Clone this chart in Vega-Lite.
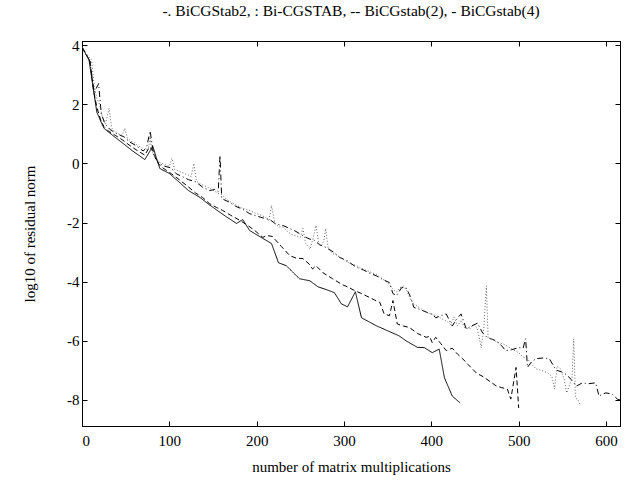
{
  "$schema": "https://vega.github.io/schema/vega-lite/v6.json",
  "width": 538,
  "height": 385,
  "autosize": "none",
  "padding": {"left": 82, "top": 41, "right": 6, "bottom": 54},
  "background": "white",
  "title": {"text": "-. BiCGStab2, : Bi-CGSTAB, -- BiCGstab(2), - BiCGstab(4)", "font": "Liberation Serif", "fontSize": 15.5, "fontWeight": "normal", "color": "black", "offset": 19},
  "config": {
    "view": {"stroke": "black", "strokeWidth": 1},
    "axis": {"grid": false, "domainColor": "black", "tickColor": "black", "labelColor": "black", "titleColor": "black", "labelFont": "Liberation Serif", "titleFont": "Liberation Serif", "labelFontSize": 15, "titleFontSize": 15, "titleFontWeight": "normal", "tickSize": -5, "tickWidth": 1, "domainWidth": 1}
  },
  "datasets": {
    "d": [
      {"m":"BiCGstab(4)","x":0,"y":3.93},{"m":"BiCGstab(4)","x":8,"y":3.5},{"m":"BiCGstab(4)","x":17,"y":1.73},{"m":"BiCGstab(4)","x":25,"y":1.19},{"m":"BiCGstab(4)","x":35,"y":0.95},{"m":"BiCGstab(4)","x":46,"y":0.7},{"m":"BiCGstab(4)","x":58,"y":0.42},{"m":"BiCGstab(4)","x":72,"y":0.13},{"m":"BiCGstab(4)","x":81,"y":0.58},{"m":"BiCGstab(4)","x":89,"y":-0.17},{"m":"BiCGstab(4)","x":100,"y":-0.34},{"m":"BiCGstab(4)","x":110,"y":-0.6},{"m":"BiCGstab(4)","x":122,"y":-0.92},{"m":"BiCGstab(4)","x":135,"y":-1.15},{"m":"BiCGstab(4)","x":145,"y":-1.38},{"m":"BiCGstab(4)","x":152,"y":-1.53},{"m":"BiCGstab(4)","x":165,"y":-1.8},{"m":"BiCGstab(4)","x":177,"y":-2.03},{"m":"BiCGstab(4)","x":184,"y":-1.9},{"m":"BiCGstab(4)","x":192,"y":-2.27},{"m":"BiCGstab(4)","x":205,"y":-2.5},{"m":"BiCGstab(4)","x":217,"y":-2.71},{"m":"BiCGstab(4)","x":225,"y":-3.36},{"m":"BiCGstab(4)","x":234,"y":-3.46},{"m":"BiCGstab(4)","x":249,"y":-3.9},{"m":"BiCGstab(4)","x":261,"y":-3.97},{"m":"BiCGstab(4)","x":270,"y":-4.17},{"m":"BiCGstab(4)","x":280,"y":-4.27},{"m":"BiCGstab(4)","x":289,"y":-4.37},{"m":"BiCGstab(4)","x":297,"y":-4.75},{"m":"BiCGstab(4)","x":304,"y":-4.85},{"m":"BiCGstab(4)","x":313,"y":-4.34},{"m":"BiCGstab(4)","x":320,"y":-5.22},{"m":"BiCGstab(4)","x":337,"y":-5.49},{"m":"BiCGstab(4)","x":350,"y":-5.66},{"m":"BiCGstab(4)","x":363,"y":-5.83},{"m":"BiCGstab(4)","x":371,"y":-6.0},{"m":"BiCGstab(4)","x":384,"y":-6.22},{"m":"BiCGstab(4)","x":392,"y":-6.23},{"m":"BiCGstab(4)","x":401,"y":-6.4},{"m":"BiCGstab(4)","x":409,"y":-6.28},{"m":"BiCGstab(4)","x":415,"y":-7.25},{"m":"BiCGstab(4)","x":424,"y":-7.87},{"m":"BiCGstab(4)","x":433,"y":-8.1},

      {"m":"BiCGstab(2)","x":0,"y":3.93},{"m":"BiCGstab(2)","x":4,"y":3.7},{"m":"BiCGstab(2)","x":9,"y":3.5},{"m":"BiCGstab(2)","x":13,"y":2.5},{"m":"BiCGstab(2)","x":17,"y":1.9},{"m":"BiCGstab(2)","x":21,"y":1.5},{"m":"BiCGstab(2)","x":25,"y":1.25},{"m":"BiCGstab(2)","x":30,"y":1.1},{"m":"BiCGstab(2)","x":38,"y":0.95},{"m":"BiCGstab(2)","x":46,"y":0.8},{"m":"BiCGstab(2)","x":55,"y":0.6},{"m":"BiCGstab(2)","x":64,"y":0.42},{"m":"BiCGstab(2)","x":72,"y":0.28},{"m":"BiCGstab(2)","x":77,"y":0.55},{"m":"BiCGstab(2)","x":81,"y":0.45},{"m":"BiCGstab(2)","x":85,"y":0.1},{"m":"BiCGstab(2)","x":90,"y":-0.1},{"m":"BiCGstab(2)","x":100,"y":-0.3},{"m":"BiCGstab(2)","x":110,"y":-0.52},{"m":"BiCGstab(2)","x":120,"y":-0.75},{"m":"BiCGstab(2)","x":130,"y":-1.0},{"m":"BiCGstab(2)","x":138,"y":-1.15},{"m":"BiCGstab(2)","x":146,"y":-1.36},{"m":"BiCGstab(2)","x":154,"y":-1.49},{"m":"BiCGstab(2)","x":161,"y":-1.59},{"m":"BiCGstab(2)","x":170,"y":-1.75},{"m":"BiCGstab(2)","x":181,"y":-1.93},{"m":"BiCGstab(2)","x":190,"y":-2.1},{"m":"BiCGstab(2)","x":199,"y":-2.3},{"m":"BiCGstab(2)","x":207,"y":-2.5},{"m":"BiCGstab(2)","x":212,"y":-2.44},{"m":"BiCGstab(2)","x":218,"y":-2.47},{"m":"BiCGstab(2)","x":228,"y":-2.8},{"m":"BiCGstab(2)","x":238,"y":-3.12},{"m":"BiCGstab(2)","x":245,"y":-3.2},{"m":"BiCGstab(2)","x":253,"y":-3.22},{"m":"BiCGstab(2)","x":260,"y":-3.4},{"m":"BiCGstab(2)","x":264,"y":-3.57},{"m":"BiCGstab(2)","x":268,"y":-3.46},{"m":"BiCGstab(2)","x":276,"y":-3.7},{"m":"BiCGstab(2)","x":287,"y":-3.9},{"m":"BiCGstab(2)","x":298,"y":-4.1},{"m":"BiCGstab(2)","x":306,"y":-4.2},{"m":"BiCGstab(2)","x":312,"y":-4.3},{"m":"BiCGstab(2)","x":320,"y":-4.4},{"m":"BiCGstab(2)","x":329,"y":-4.53},{"m":"BiCGstab(2)","x":335,"y":-4.62},{"m":"BiCGstab(2)","x":341,"y":-4.7},{"m":"BiCGstab(2)","x":346,"y":-5.09},{"m":"BiCGstab(2)","x":352,"y":-5.15},{"m":"BiCGstab(2)","x":356,"y":-4.64},{"m":"BiCGstab(2)","x":361,"y":-5.43},{"m":"BiCGstab(2)","x":368,"y":-5.5},{"m":"BiCGstab(2)","x":375,"y":-5.55},{"m":"BiCGstab(2)","x":384,"y":-5.75},{"m":"BiCGstab(2)","x":394,"y":-5.88},{"m":"BiCGstab(2)","x":398,"y":-5.85},{"m":"BiCGstab(2)","x":401,"y":-6.06},{"m":"BiCGstab(2)","x":405,"y":-5.88},{"m":"BiCGstab(2)","x":411,"y":-6.1},{"m":"BiCGstab(2)","x":417,"y":-6.33},{"m":"BiCGstab(2)","x":424,"y":-6.25},{"m":"BiCGstab(2)","x":430,"y":-6.45},{"m":"BiCGstab(2)","x":436,"y":-6.61},{"m":"BiCGstab(2)","x":442,"y":-6.8},{"m":"BiCGstab(2)","x":447,"y":-6.95},{"m":"BiCGstab(2)","x":452,"y":-7.1},{"m":"BiCGstab(2)","x":458,"y":-7.19},{"m":"BiCGstab(2)","x":466,"y":-7.35},{"m":"BiCGstab(2)","x":474,"y":-7.52},{"m":"BiCGstab(2)","x":480,"y":-7.58},{"m":"BiCGstab(2)","x":487,"y":-7.63},{"m":"BiCGstab(2)","x":491,"y":-7.97},{"m":"BiCGstab(2)","x":497,"y":-6.9},{"m":"BiCGstab(2)","x":500,"y":-8.27},

      {"m":"BiCGStab2","x":0,"y":3.93},{"m":"BiCGStab2","x":5,"y":3.7},{"m":"BiCGStab2","x":9,"y":3.45},{"m":"BiCGStab2","x":14,"y":2.4},{"m":"BiCGStab2","x":19,"y":2.7},{"m":"BiCGStab2","x":22,"y":1.7},{"m":"BiCGStab2","x":26,"y":1.35},{"m":"BiCGStab2","x":32,"y":1.15},{"m":"BiCGStab2","x":40,"y":1.0},{"m":"BiCGStab2","x":48,"y":0.9},{"m":"BiCGStab2","x":55,"y":0.72},{"m":"BiCGStab2","x":62,"y":0.6},{"m":"BiCGStab2","x":70,"y":0.42},{"m":"BiCGStab2","x":74,"y":0.55},{"m":"BiCGStab2","x":78,"y":1.1},{"m":"BiCGStab2","x":82,"y":0.3},{"m":"BiCGStab2","x":88,"y":0.0},{"m":"BiCGStab2","x":95,"y":-0.1},{"m":"BiCGStab2","x":102,"y":-0.15},{"m":"BiCGStab2","x":108,"y":-0.35},{"m":"BiCGStab2","x":115,"y":-0.45},{"m":"BiCGStab2","x":122,"y":-0.55},{"m":"BiCGStab2","x":130,"y":-0.62},{"m":"BiCGStab2","x":138,"y":-0.8},{"m":"BiCGStab2","x":146,"y":-0.92},{"m":"BiCGStab2","x":152,"y":-0.88},{"m":"BiCGStab2","x":156,"y":-0.95},{"m":"BiCGStab2","x":158,"y":0.27},{"m":"BiCGStab2","x":160,"y":-1.19},{"m":"BiCGStab2","x":168,"y":-1.3},{"m":"BiCGStab2","x":176,"y":-1.45},{"m":"BiCGStab2","x":184,"y":-1.55},{"m":"BiCGStab2","x":192,"y":-1.7},{"m":"BiCGStab2","x":200,"y":-1.78},{"m":"BiCGStab2","x":208,"y":-1.85},{"m":"BiCGStab2","x":215,"y":-1.9},{"m":"BiCGStab2","x":222,"y":-2.05},{"m":"BiCGStab2","x":230,"y":-2.1},{"m":"BiCGStab2","x":238,"y":-2.2},{"m":"BiCGStab2","x":245,"y":-2.3},{"m":"BiCGStab2","x":253,"y":-2.45},{"m":"BiCGStab2","x":260,"y":-2.55},{"m":"BiCGStab2","x":266,"y":-2.6},{"m":"BiCGStab2","x":272,"y":-2.75},{"m":"BiCGStab2","x":280,"y":-2.85},{"m":"BiCGStab2","x":288,"y":-3.0},{"m":"BiCGStab2","x":295,"y":-3.18},{"m":"BiCGStab2","x":304,"y":-3.3},{"m":"BiCGStab2","x":314,"y":-3.51},{"m":"BiCGStab2","x":322,"y":-3.6},{"m":"BiCGStab2","x":330,"y":-3.72},{"m":"BiCGStab2","x":337,"y":-3.8},{"m":"BiCGStab2","x":344,"y":-3.92},{"m":"BiCGStab2","x":352,"y":-4.03},{"m":"BiCGStab2","x":356,"y":-4.4},{"m":"BiCGStab2","x":360,"y":-4.47},{"m":"BiCGStab2","x":366,"y":-4.2},{"m":"BiCGStab2","x":371,"y":-4.2},{"m":"BiCGStab2","x":376,"y":-4.5},{"m":"BiCGStab2","x":380,"y":-4.87},{"m":"BiCGStab2","x":388,"y":-4.95},{"m":"BiCGStab2","x":396,"y":-5.05},{"m":"BiCGStab2","x":401,"y":-5.1},{"m":"BiCGStab2","x":405,"y":-5.22},{"m":"BiCGStab2","x":411,"y":-5.15},{"m":"BiCGStab2","x":417,"y":-5.09},{"m":"BiCGStab2","x":424,"y":-5.5},{"m":"BiCGStab2","x":428,"y":-5.3},{"m":"BiCGStab2","x":434,"y":-5.09},{"m":"BiCGStab2","x":440,"y":-5.6},{"m":"BiCGStab2","x":446,"y":-5.5},{"m":"BiCGStab2","x":453,"y":-5.4},{"m":"BiCGStab2","x":458,"y":-5.7},{"m":"BiCGStab2","x":464,"y":-5.89},{"m":"BiCGStab2","x":470,"y":-5.95},{"m":"BiCGStab2","x":474,"y":-6.0},{"m":"BiCGStab2","x":480,"y":-6.15},{"m":"BiCGStab2","x":485,"y":-6.33},{"m":"BiCGStab2","x":492,"y":-6.3},{"m":"BiCGStab2","x":500,"y":-6.23},{"m":"BiCGStab2","x":505,"y":-6.25},{"m":"BiCGStab2","x":508,"y":-5.93},{"m":"BiCGStab2","x":510,"y":-6.9},{"m":"BiCGStab2","x":515,"y":-6.7},{"m":"BiCGStab2","x":520,"y":-6.6},{"m":"BiCGStab2","x":528,"y":-6.58},{"m":"BiCGStab2","x":535,"y":-6.6},{"m":"BiCGStab2","x":541,"y":-6.9},{"m":"BiCGStab2","x":544,"y":-7.0},{"m":"BiCGStab2","x":549,"y":-7.05},{"m":"BiCGStab2","x":554,"y":-7.13},{"m":"BiCGStab2","x":560,"y":-7.3},{"m":"BiCGStab2","x":566,"y":-7.53},{"m":"BiCGStab2","x":573,"y":-7.42},{"m":"BiCGStab2","x":580,"y":-7.45},{"m":"BiCGStab2","x":588,"y":-7.42},{"m":"BiCGStab2","x":592,"y":-7.87},{"m":"BiCGStab2","x":596,"y":-7.8},{"m":"BiCGStab2","x":600,"y":-7.76},{"m":"BiCGStab2","x":607,"y":-7.8},{"m":"BiCGStab2","x":613,"y":-7.97},{"m":"BiCGStab2","x":616,"y":-8.0},

      {"m":"Bi-CGSTAB","x":0,"y":3.93},{"m":"Bi-CGSTAB","x":4,"y":3.75},{"m":"Bi-CGSTAB","x":8,"y":3.6},{"m":"Bi-CGSTAB","x":11,"y":3.5},{"m":"Bi-CGSTAB","x":14,"y":2.6},{"m":"Bi-CGSTAB","x":17,"y":2.2},{"m":"Bi-CGSTAB","x":20,"y":2.0},{"m":"Bi-CGSTAB","x":23,"y":1.6},{"m":"Bi-CGSTAB","x":27,"y":1.35},{"m":"Bi-CGSTAB","x":31,"y":1.86},{"m":"Bi-CGSTAB","x":34,"y":1.2},{"m":"Bi-CGSTAB","x":38,"y":1.05},{"m":"Bi-CGSTAB","x":42,"y":1.0},{"m":"Bi-CGSTAB","x":46,"y":0.95},{"m":"Bi-CGSTAB","x":49,"y":1.19},{"m":"Bi-CGSTAB","x":52,"y":0.85},{"m":"Bi-CGSTAB","x":56,"y":0.75},{"m":"Bi-CGSTAB","x":60,"y":0.7},{"m":"Bi-CGSTAB","x":64,"y":0.6},{"m":"Bi-CGSTAB","x":68,"y":0.55},{"m":"Bi-CGSTAB","x":72,"y":0.45},{"m":"Bi-CGSTAB","x":76,"y":0.5},{"m":"Bi-CGSTAB","x":78,"y":0.9},{"m":"Bi-CGSTAB","x":80,"y":0.4},{"m":"Bi-CGSTAB","x":84,"y":0.2},{"m":"Bi-CGSTAB","x":88,"y":0.05},{"m":"Bi-CGSTAB","x":92,"y":0.0},{"m":"Bi-CGSTAB","x":96,"y":-0.05},{"m":"Bi-CGSTAB","x":100,"y":-0.1},{"m":"Bi-CGSTAB","x":103,"y":0.17},{"m":"Bi-CGSTAB","x":106,"y":-0.2},{"m":"Bi-CGSTAB","x":110,"y":-0.25},{"m":"Bi-CGSTAB","x":114,"y":-0.3},{"m":"Bi-CGSTAB","x":118,"y":-0.35},{"m":"Bi-CGSTAB","x":122,"y":-0.4},{"m":"Bi-CGSTAB","x":125,"y":-0.45},{"m":"Bi-CGSTAB","x":128,"y":0.0},{"m":"Bi-CGSTAB","x":131,"y":-0.6},{"m":"Bi-CGSTAB","x":136,"y":-0.7},{"m":"Bi-CGSTAB","x":140,"y":-0.75},{"m":"Bi-CGSTAB","x":145,"y":-0.82},{"m":"Bi-CGSTAB","x":150,"y":-0.9},{"m":"Bi-CGSTAB","x":155,"y":-1.0},{"m":"Bi-CGSTAB","x":160,"y":-1.05},{"m":"Bi-CGSTAB","x":165,"y":-1.2},{"m":"Bi-CGSTAB","x":170,"y":-1.3},{"m":"Bi-CGSTAB","x":176,"y":-1.4},{"m":"Bi-CGSTAB","x":182,"y":-1.5},{"m":"Bi-CGSTAB","x":188,"y":-1.55},{"m":"Bi-CGSTAB","x":194,"y":-1.62},{"m":"Bi-CGSTAB","x":200,"y":-1.7},{"m":"Bi-CGSTAB","x":205,"y":-1.75},{"m":"Bi-CGSTAB","x":210,"y":-1.82},{"m":"Bi-CGSTAB","x":214,"y":-1.95},{"m":"Bi-CGSTAB","x":217,"y":-1.42},{"m":"Bi-CGSTAB","x":221,"y":-2.05},{"m":"Bi-CGSTAB","x":226,"y":-2.15},{"m":"Bi-CGSTAB","x":230,"y":-2.15},{"m":"Bi-CGSTAB","x":235,"y":-2.3},{"m":"Bi-CGSTAB","x":240,"y":-2.4},{"m":"Bi-CGSTAB","x":245,"y":-2.45},{"m":"Bi-CGSTAB","x":250,"y":-2.5},{"m":"Bi-CGSTAB","x":253,"y":-2.2},{"m":"Bi-CGSTAB","x":256,"y":-2.7},{"m":"Bi-CGSTAB","x":261,"y":-2.9},{"m":"Bi-CGSTAB","x":264,"y":-2.6},{"m":"Bi-CGSTAB","x":268,"y":-2.1},{"m":"Bi-CGSTAB","x":271,"y":-2.7},{"m":"Bi-CGSTAB","x":274,"y":-2.78},{"m":"Bi-CGSTAB","x":277,"y":-2.6},{"m":"Bi-CGSTAB","x":279,"y":-2.2},{"m":"Bi-CGSTAB","x":282,"y":-2.9},{"m":"Bi-CGSTAB","x":287,"y":-3.05},{"m":"Bi-CGSTAB","x":292,"y":-3.1},{"m":"Bi-CGSTAB","x":297,"y":-3.2},{"m":"Bi-CGSTAB","x":302,"y":-3.3},{"m":"Bi-CGSTAB","x":308,"y":-3.4},{"m":"Bi-CGSTAB","x":314,"y":-3.45},{"m":"Bi-CGSTAB","x":320,"y":-3.55},{"m":"Bi-CGSTAB","x":326,"y":-3.62},{"m":"Bi-CGSTAB","x":332,"y":-3.7},{"m":"Bi-CGSTAB","x":337,"y":-3.75},{"m":"Bi-CGSTAB","x":342,"y":-3.85},{"m":"Bi-CGSTAB","x":347,"y":-3.98},{"m":"Bi-CGSTAB","x":352,"y":-4.1},{"m":"Bi-CGSTAB","x":356,"y":-4.25},{"m":"Bi-CGSTAB","x":360,"y":-4.35},{"m":"Bi-CGSTAB","x":364,"y":-4.2},{"m":"Bi-CGSTAB","x":368,"y":-4.15},{"m":"Bi-CGSTAB","x":372,"y":-4.3},{"m":"Bi-CGSTAB","x":376,"y":-4.6},{"m":"Bi-CGSTAB","x":380,"y":-4.75},{"m":"Bi-CGSTAB","x":385,"y":-4.85},{"m":"Bi-CGSTAB","x":390,"y":-4.95},{"m":"Bi-CGSTAB","x":395,"y":-5.05},{"m":"Bi-CGSTAB","x":400,"y":-5.1},{"m":"Bi-CGSTAB","x":406,"y":-5.15},{"m":"Bi-CGSTAB","x":412,"y":-5.25},{"m":"Bi-CGSTAB","x":418,"y":-5.35},{"m":"Bi-CGSTAB","x":422,"y":-5.45},{"m":"Bi-CGSTAB","x":426,"y":-5.2},{"m":"Bi-CGSTAB","x":430,"y":-5.5},{"m":"Bi-CGSTAB","x":434,"y":-5.3},{"m":"Bi-CGSTAB","x":438,"y":-5.55},{"m":"Bi-CGSTAB","x":444,"y":-5.6},{"m":"Bi-CGSTAB","x":448,"y":-5.45},{"m":"Bi-CGSTAB","x":452,"y":-5.55},{"m":"Bi-CGSTAB","x":455,"y":-5.9},{"m":"Bi-CGSTAB","x":457,"y":-6.23},{"m":"Bi-CGSTAB","x":460,"y":-5.6},{"m":"Bi-CGSTAB","x":463,"y":-4.14},{"m":"Bi-CGSTAB","x":465,"y":-5.9},{"m":"Bi-CGSTAB","x":470,"y":-5.95},{"m":"Bi-CGSTAB","x":476,"y":-6.05},{"m":"Bi-CGSTAB","x":482,"y":-6.1},{"m":"Bi-CGSTAB","x":488,"y":-6.2},{"m":"Bi-CGSTAB","x":494,"y":-6.3},{"m":"Bi-CGSTAB","x":500,"y":-6.4},{"m":"Bi-CGSTAB","x":505,"y":-6.55},{"m":"Bi-CGSTAB","x":510,"y":-6.6},{"m":"Bi-CGSTAB","x":515,"y":-6.8},{"m":"Bi-CGSTAB","x":520,"y":-6.95},{"m":"Bi-CGSTAB","x":526,"y":-7.0},{"m":"Bi-CGSTAB","x":533,"y":-7.08},{"m":"Bi-CGSTAB","x":538,"y":-7.2},{"m":"Bi-CGSTAB","x":541,"y":-7.63},{"m":"Bi-CGSTAB","x":544,"y":-6.85},{"m":"Bi-CGSTAB","x":548,"y":-6.95},{"m":"Bi-CGSTAB","x":552,"y":-7.3},{"m":"Bi-CGSTAB","x":555,"y":-7.76},{"m":"Bi-CGSTAB","x":558,"y":-7.5},{"m":"Bi-CGSTAB","x":561,"y":-7.3},{"m":"Bi-CGSTAB","x":563,"y":-5.93},{"m":"Bi-CGSTAB","x":565,"y":-7.93},{"m":"Bi-CGSTAB","x":568,"y":-8.0},{"m":"Bi-CGSTAB","x":571,"y":-8.2}
    ]
  },
  "layer": [
    {
      "data": {"name": "d"},
      "mark": {"type": "line", "strokeWidth": 1, "clip": true},
      "encoding": {
        "x": {"field": "x", "type": "quantitative", "scale": {"domain": [0, 616], "nice": false, "zero": false},
              "axis": {"orient": "bottom", "values": [0,100,200,300,400,500,600], "labelPadding": 12, "title": "number of matrix multiplications", "titleY": 40, "titleBaseline": "middle"}},
        "y": {"field": "y", "type": "quantitative", "scale": {"domain": [-8.88, 4.14], "nice": false, "zero": false},
              "axis": {"orient": "left", "values": [-8,-6,-4,-2,0,2,4], "labelExpr": "datum.value < 0 ? '-' + abs(datum.value) : '' + datum.value", "labelPadding": 8, "title": "log10 of residual norm", "titleX": -53, "titleY": 192.5, "titleAngle": -90, "titleBaseline": "middle", "titleAlign": "center"}},
        "color": {"field": "m", "type": "nominal", "scale": {"domain": ["BiCGStab2","Bi-CGSTAB","BiCGstab(2)","BiCGstab(4)"], "range": ["black","#666666","black","black"]}, "legend": null},
        "strokeDash": {"field": "m", "type": "nominal", "scale": {"domain": ["BiCGStab2","Bi-CGSTAB","BiCGstab(2)","BiCGstab(4)"], "range": [[6,3,1,3],[1,2],[5,3],[1,0]]}, "legend": null}
      }
    },
    {
      "data": {"name": "d"},
      "mark": {"type": "line", "opacity": 0},
      "encoding": {
        "x": {"field": "x", "type": "quantitative", "scale": {"domain": [0, 616], "nice": false, "zero": false},
              "axis": {"orient": "top", "values": [0,100,200,300,400,500,600], "labels": false, "title": null}},
        "y": {"field": "y", "type": "quantitative", "scale": {"domain": [-8.88, 4.14], "nice": false, "zero": false},
              "axis": {"orient": "right", "values": [-8,-6,-4,-2,0,2,4], "labels": false, "title": null}},
        "detail": {"field": "m", "type": "nominal"}
      }
    }
  ]
}
